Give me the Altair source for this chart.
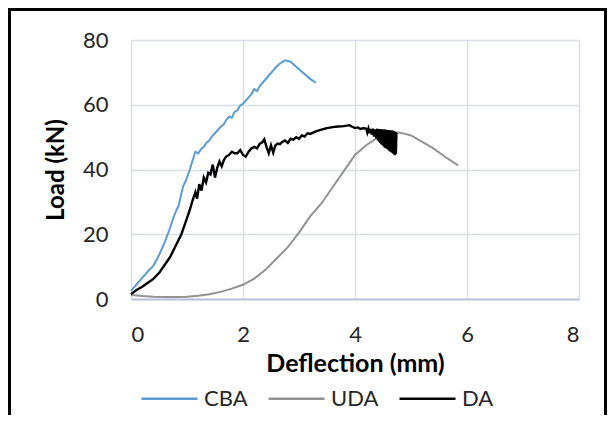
import altair as alt
import pandas as pd

# ---- data ----
cba_x = [0.0, 0.1, 0.2, 0.3, 0.4, 0.5, 0.6, 0.7, 0.75, 0.8, 0.85, 0.9, 0.93, 0.97, 1.0,
         1.05, 1.1, 1.15, 1.2, 1.25, 1.3, 1.35, 1.4, 1.45, 1.5, 1.55, 1.6, 1.65, 1.7, 1.75,
         1.8, 1.85, 1.9, 1.95, 2.0, 2.05, 2.1, 2.15, 2.2, 2.25, 2.3, 2.35, 2.4, 2.45, 2.5,
         2.55, 2.6, 2.65, 2.7, 2.75, 2.8, 2.85, 2.9, 3.0, 3.1, 3.2, 3.3]
cba_y = [2.5, 4.5, 6.5, 8.5, 10.3, 13.5, 17.5, 22.0, 24.8, 27.0, 28.8, 32.5, 34.8, 36.2, 37.5,
         40.0, 42.8, 45.5, 45.0, 46.3, 47.0, 48.3, 49.0, 50.3, 51.2, 52.2, 53.2, 53.8, 55.3, 56.3,
         56.0, 57.8, 58.3, 59.8, 60.3, 61.3, 62.3, 63.3, 64.8, 64.2, 65.8, 66.8, 67.8, 68.8, 69.8,
         70.8, 71.8, 72.6, 73.2, 73.7, 73.5, 73.3, 72.5, 71.0, 69.5, 68.0, 66.8]

uda_x = [0.0, 0.2, 0.4, 0.6, 0.8, 1.0, 1.2, 1.4, 1.6, 1.8, 2.0, 2.2, 2.4, 2.6, 2.8, 3.0,
         3.2, 3.4, 3.6, 3.8, 4.0, 4.2, 4.4, 4.6, 4.75, 4.9, 5.0, 5.2, 5.4, 5.6, 5.84]
uda_y = [1.2, 0.9, 0.7, 0.6, 0.6, 0.7, 1.0, 1.5, 2.2, 3.2, 4.4, 6.3, 9.0, 12.5, 16.0, 20.5,
         25.5, 29.5, 34.5, 39.5, 44.5, 47.5, 49.8, 51.0, 51.5, 51.0, 50.5, 48.5, 46.5, 44.0, 41.3]

da_x = [0.0, 0.1, 0.2, 0.3, 0.4, 0.5, 0.6, 0.7, 0.8, 0.9, 1.0, 1.05, 1.1, 1.15, 1.18, 1.22,
        1.26, 1.3, 1.34, 1.38, 1.42, 1.46, 1.5, 1.54, 1.58, 1.62, 1.66, 1.7, 1.75, 1.8, 1.85,
        1.9, 1.95, 2.0, 2.05, 2.1, 2.15, 2.2, 2.25, 2.3, 2.35, 2.38, 2.42, 2.46, 2.5, 2.54,
        2.58, 2.62, 2.66, 2.7, 2.75, 2.8, 2.85, 2.9, 2.95, 3.0, 3.05, 3.1, 3.15, 3.2, 3.3,
        3.4, 3.5, 3.6, 3.7, 3.8, 3.9, 3.95, 4.0, 4.05, 4.1, 4.15, 4.2,
        4.22, 4.24, 4.26, 4.28, 4.30, 4.32, 4.34, 4.36, 4.38, 4.40,
        4.41, 4.42, 4.43, 4.44, 4.45, 4.46, 4.47, 4.48, 4.49, 4.50,
        4.51, 4.52, 4.53, 4.54, 4.55, 4.56, 4.57, 4.58, 4.59, 4.60,
        4.61, 4.62, 4.63, 4.64, 4.65, 4.66, 4.67, 4.68, 4.69, 4.70,
        4.71, 4.72, 4.73, 4.74]
da_y = [1.5, 2.8, 3.8, 5.0, 6.2, 8.0, 10.5, 13.0, 16.5, 20.0, 25.0, 27.5, 30.5, 33.0, 31.0, 35.5,
        33.5, 37.5, 36.0, 39.0, 38.5, 41.5, 37.5, 40.5, 42.5, 41.0, 43.0, 44.0, 44.5, 45.5, 45.0,
        45.0, 46.0, 44.5, 44.0, 45.5, 46.5, 47.0, 46.5, 48.0, 48.5, 49.3, 47.0, 45.0, 47.5, 45.2,
        47.5, 48.0, 47.8, 48.5, 49.0, 48.2, 49.5, 49.2, 50.0, 49.5, 50.5, 50.2, 51.2, 51.0, 51.8,
        52.3, 52.8, 53.1, 53.3, 53.4, 53.7, 53.2, 52.8, 53.0, 52.5, 52.8, 52.6,
        51.4, 52.6, 51.2, 52.5, 50.8, 52.6, 50.2, 52.4, 49.6, 52.6,
        49.0, 52.3, 48.6, 52.5, 48.2, 52.2, 47.8, 52.4, 47.6, 52.2,
        47.2, 52.4, 46.8, 52.0, 46.6, 52.3, 46.4, 51.8, 46.2, 52.2,
        45.8, 51.9, 45.6, 52.1, 45.3, 51.7, 45.1, 52.0, 44.8, 51.8,
        44.4, 51.6, 44.8, 51.3]

series = ["CBA", "UDA", "DA"]
colors = ["#5B9BD5", "#929292", "#000000"]

x_ticks = [0, 2, 4, 6, 8]
y_ticks = [0, 20, 40, 60, 80]

FONT = "Lato"
W, H = 448, 259
PL, PT = 123, 32
PR, PB = 599 - PL - W, 407 - PT - H


def frame(xs, ys, name):
    return pd.DataFrame({"Deflection": xs, "Load": ys, "Series": name, "order": range(len(xs))})


color = alt.Color(
    "Series:N",
    scale=alt.Scale(domain=series, range=colors),
    legend=alt.Legend(
        title=None,
        orient="none",
        direction="horizontal",
        legendX=9,
        legendY=329,
        symbolType="stroke",
        symbolSize=3136,
        symbolStrokeWidth=2.5,
        labelFontSize=22,
        labelFont=FONT,
        labelColor="#262626",
        columnPadding=15,
        labelOffset=5,
    ),
)

x_enc = alt.X(
    "Deflection:Q",
    scale=alt.Scale(domain=[0, 8], nice=False),
    axis=alt.Axis(values=x_ticks, title="Deflection (mm)", titleFontSize=25),
)
y_enc = alt.Y(
    "Load:Q",
    scale=alt.Scale(domain=[0, 80], nice=False),
    axis=alt.Axis(values=y_ticks, title="Load (kN)", titleFontSize=24),
)


def line(df, width):
    return alt.Chart(df).mark_line(strokeWidth=width).encode(
        x=x_enc, y=y_enc, color=color, order="order:Q"
    )


border = alt.Chart(pd.DataFrame({"k": [0]})).mark_rect(
    filled=False, stroke="black", strokeWidth=3
).encode(
    x=alt.value(-PL + 1.5),
    x2=alt.value(W + PR - 1.5),
    y=alt.value(-PT + 1.5),
    y2=alt.value(H + PB + 10),
)

chart = alt.layer(
    line(frame(uda_x, uda_y, "UDA"), 2),
    line(frame(cba_x, cba_y, "CBA"), 2),
    line(frame(da_x, da_y, "DA"), 2.4),
    border,
).properties(
    width=W,
    height=H,
    autosize=alt.AutoSizeParams(type="none"),
    padding={"left": PL, "top": PT, "right": PR, "bottom": PB},
).configure_view(
    stroke=None
).configure_axis(
    labelFont=FONT,
    labelFontSize=22,
    labelColor="#262626",
    titleFont=FONT,
    titleFontWeight="bold",
    titleColor="#000000",
    gridColor="#D9DEE8",
    gridWidth=1.5,
    ticks=False,
    domain=False,
).configure_axisX(
    domain=True,
    domainColor="#B8C3D6",
    domainWidth=2,
    labelPadding=25,
    titlePadding=6,
).configure_axisY(
    labelPadding=23,
    titlePadding=14,
)

chart.save("out.html", embed_options={"renderer": "svg", "actions": False})
